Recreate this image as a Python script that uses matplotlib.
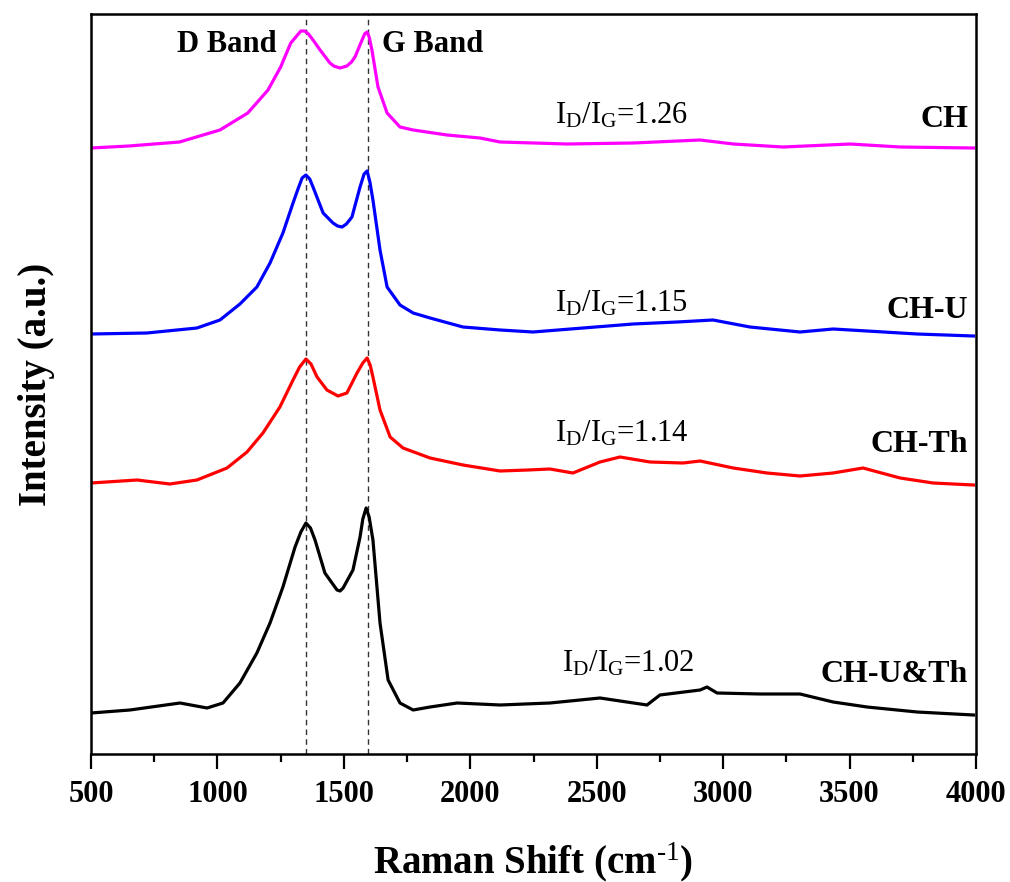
import matplotlib
matplotlib.use("Agg")
import matplotlib.pyplot as plt
from matplotlib.ticker import MultipleLocator

plt.rcParams['font.family'] = ['Liberation Serif', 'DejaVu Serif']
plt.rcParams['mathtext.fontset'] = 'custom'
plt.rcParams['mathtext.rm'] = 'Liberation Serif'
plt.rcParams['mathtext.it'] = 'Liberation Serif:italic'
plt.rcParams['mathtext.bf'] = 'Liberation Serif:bold'

# Spectra (already stacked, a.u.)
x_ch = [500, 650, 850, 1010, 1120, 1200, 1250, 1290, 1320, 1330, 1345, 1360, 1378, 1406,
        1445, 1460, 1485, 1512, 1530, 1544, 1572, 1582, 1592, 1600, 1611, 1635, 1671, 1722,
        1774, 1908, 2038, 2118, 2383, 2644, 2909, 3040, 3237, 3502, 3700, 3990]
y_ch = [606, 608, 612, 624, 641, 664, 687, 711, 720, 723, 723, 720, 714, 704,
        691, 688, 686, 688, 692, 697, 714, 720, 722, 717, 704, 667, 641, 627,
        624, 619, 616, 612, 610, 611, 614, 610, 607, 610, 607, 606]

x_chu = [500, 721, 919, 1010, 1089, 1156, 1208, 1259, 1299, 1320, 1335, 1350, 1365, 1378,
         1418, 1457, 1475, 1493, 1510, 1532, 1564, 1580, 1592, 1603, 1615, 1643, 1671, 1722,
         1774, 1841, 1971, 2118, 2248, 2446, 2644, 2818, 2960, 3106, 3304, 3435, 3569, 3767,
         3990]
y_chu = [420, 421, 426, 434, 450, 467, 491, 521, 551, 566, 576, 579, 575, 567,
         541, 531, 528, 527, 530, 537, 567, 580, 583, 572, 554, 504, 467, 449,
         441, 436, 427, 424, 422, 426, 430, 432, 434, 427, 422, 425, 423, 420,
         418]

x_chth = [500, 682, 812, 919, 1038, 1117, 1180, 1247, 1299, 1325, 1350, 1370, 1394, 1433,
          1477, 1512, 1552, 1575, 1592, 1604, 1615, 1643, 1683, 1734, 1841, 1971, 2118, 2228,
          2315, 2406, 2513, 2592, 2711, 2841, 2909, 3040, 3173, 3304, 3435, 3553, 3700, 3830,
          3990]
y_chth = [271, 274, 270, 274, 286, 302, 321, 347, 374, 387, 395, 390, 377, 364,
          358, 361, 381, 391, 396, 389, 377, 344, 317, 306, 296, 289, 283, 284,
          285, 281, 292, 297, 292, 291, 293, 286, 281, 278, 281, 286, 276, 271,
          269]

x_chuth = [500, 654, 852, 959, 1022, 1089, 1156, 1208, 1259, 1307, 1330, 1350, 1368, 1386,
           1425, 1473, 1485, 1497, 1536, 1564, 1575, 1588, 1600, 1615, 1643, 1675, 1722, 1774,
           1841, 1948, 2118, 2315, 2513, 2699, 2750, 2909, 2936, 2976, 3146, 3304, 3435, 3569,
           3767, 3990]
y_chuth = [41, 44, 51, 46, 51, 71, 101, 131, 167, 207, 222, 231, 226, 214,
           181, 164, 163, 166, 184, 217, 235, 246, 237, 214, 131, 74, 51, 44,
           47, 51, 49, 51, 56, 49, 59, 64, 67, 61, 60, 60, 52, 47,
           42, 39]

names = ['CH', 'CH-U', 'CH-Th', 'CH-U&Th']
ratios = ['1.26', '1.15', '1.14', '1.02']
colors = ['#FF00FF', '#0000FF', '#FF0000', '#000000']
d_band, g_band = 1350, 1595

fig = plt.figure(figsize=(10.1, 8.82), dpi=100)
ax = fig.add_axes([91/1010, 1-754/882, (976-91)/1010, (754-14)/882])

series = [(x_ch, y_ch), (x_chu, y_chu), (x_chth, y_chth), (x_chuth, y_chuth)]
for (xs, ys), c in zip(series, colors):
    ax.plot(xs, ys, color=c, lw=2.3, solid_joinstyle='round')

for b in (d_band, g_band):
    ax.axvline(b, color='#333333', lw=1.0, ls=(0, (4, 3)), zorder=0)

ax.set_xlim(500, 4000)
ax.set_ylim(0, 740)
ax.set_yticks([])
ax.xaxis.set_major_locator(MultipleLocator(500))
ax.xaxis.set_minor_locator(MultipleLocator(250))
ax.tick_params(axis='x', which='major', direction='out', length=11, width=1.6,
               pad=8, labelsize=22)
ax.tick_params(axis='x', which='minor', direction='out', length=6, width=1.6)
for lab in ax.get_xticklabels():
    lab.set_fontweight('bold')
for s in ax.spines.values():
    s.set_linewidth(1.8)

ax.set_xlabel(r'Raman Shift (cm$^{\text{-1}}$)', fontsize=28, fontweight='bold', labelpad=22)
ax.set_ylabel('Intensity (a.u.)', fontsize=28, fontweight='bold', labelpad=26)

ax.text(1038, 709, 'D Band', fontsize=22, fontweight='bold', ha='center', va='center')
ax.text(1853, 709, 'G Band', fontsize=22, fontweight='bold', ha='center', va='center')

# label positions (x left for ratio, baseline y)
ratio_pos = [(2335, 631), (2335, 442), (2335, 312), (2363, 82)]
name_y = [627, 436, 302, 72]
for r, (rx, ry), n, ny in zip(ratios, ratio_pos, names, name_y):
    ax.text(rx, ry, r'$\mathrm{I_D/I_G}$=' + r, fontsize=22, ha='left', va='baseline')
    ax.text(3968, ny, n, fontsize=23, fontweight='bold', ha='right', va='baseline')

fig.savefig('out.png', dpi=100)
